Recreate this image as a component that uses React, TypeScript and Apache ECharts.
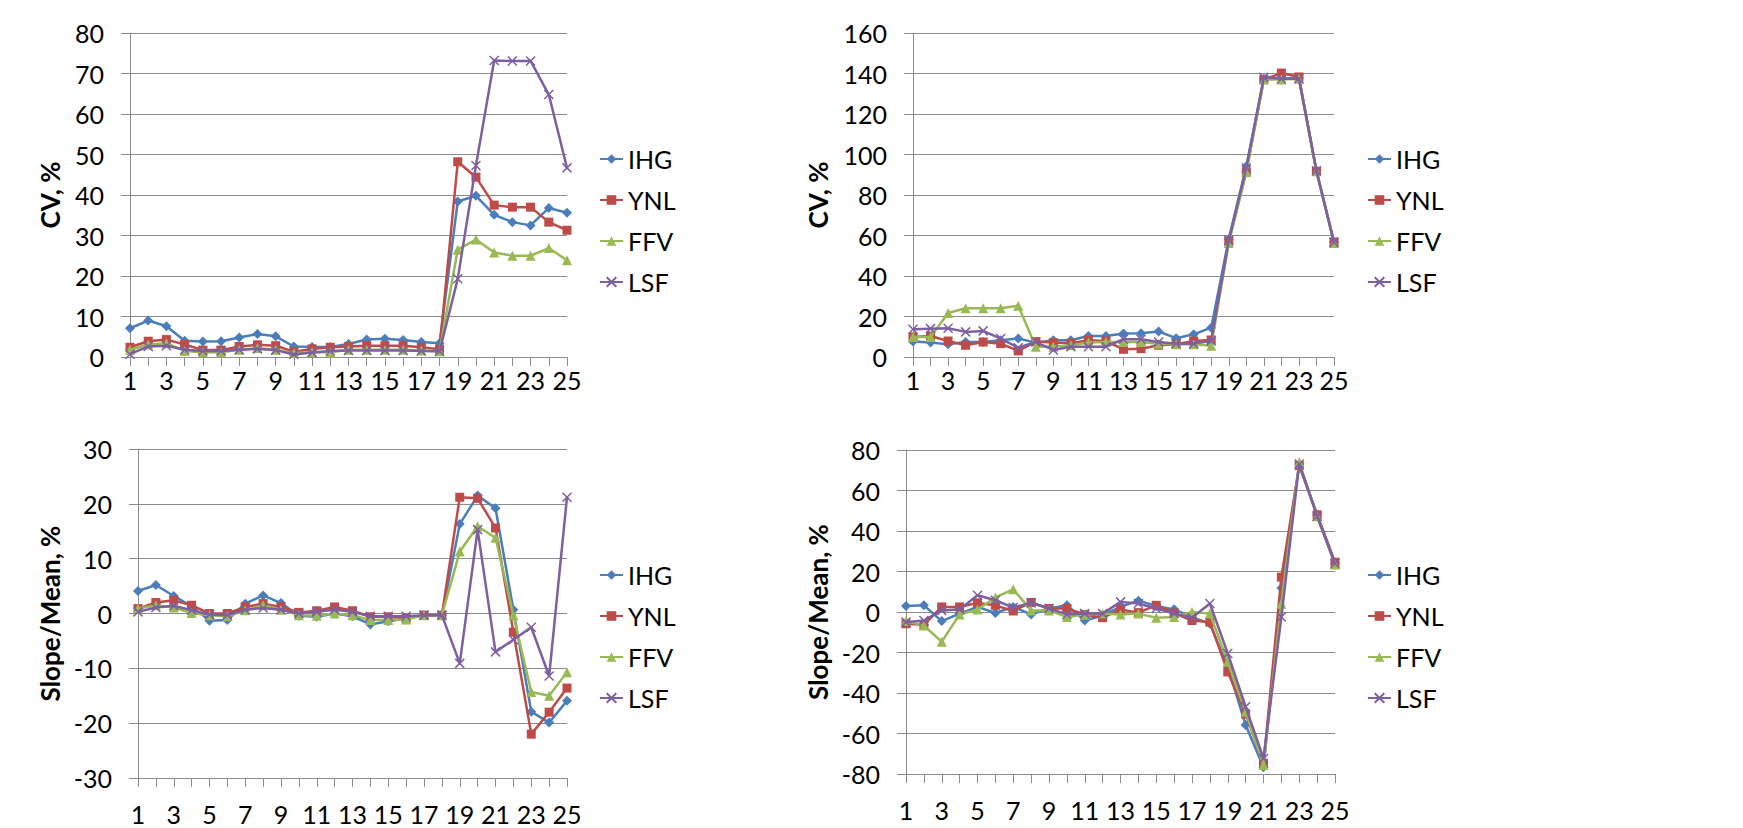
import React, { useEffect, useRef } from 'react';
import * as echarts from 'echarts';

const categories = ['1', '2', '3', '4', '5', '6', '7', '8', '9', '10', '11', '12', '13', '14', '15', '16', '17', '18', '19', '20', '21', '22', '23', '24', '25'];
const seriesNames = ['IHG', 'YNL', 'FFV', 'LSF'];

// Panel 1: CV, % (upper left)
const cv1IHG = [7.1, 9.0, 7.6, 4.0, 3.8, 3.9, 4.8, 5.7, 5.1, 2.6, 2.5, 2.5, 3.2, 4.3, 4.5, 4.2, 3.7, 3.4, 38.4, 39.8, 35.1, 33.3, 32.5, 36.8, 35.6];
const cv1YNL = [2.4, 3.9, 4.3, 3.1, 1.7, 1.7, 2.6, 3.0, 2.8, 1.3, 2.0, 2.4, 2.6, 2.8, 2.8, 2.8, 2.4, 1.9, 48.2, 44.4, 37.5, 37.0, 37.0, 33.3, 31.3];
const cv1FFV = [1.8, 3.1, 3.4, 1.5, 1.2, 1.2, 1.8, 2.2, 1.8, 1.0, 1.2, 1.2, 1.8, 1.8, 1.8, 1.8, 1.6, 1.4, 26.5, 29.0, 25.8, 25.0, 25.0, 26.9, 23.9];
const cv1LSF = [0.7, 2.6, 2.8, 1.8, 1.5, 1.5, 1.8, 2.0, 1.7, 0.6, 1.1, 1.5, 1.6, 1.6, 1.6, 1.6, 1.5, 1.4, 19.3, 47.3, 73.2, 73.1, 73.1, 64.8, 46.7];

// Panel 2: CV, % (upper right)
const cv2IHG = [7.6, 7.1, 6.3, 7.4, 7.4, 8.3, 9.1, 7.1, 8.3, 8.3, 10.4, 10.4, 11.6, 11.7, 12.6, 9.3, 11.2, 14.5, 58.3, 94.2, 137.4, 137.4, 137.8, 92.0, 56.8];
const cv2YNL = [9.9, 10.4, 7.9, 5.8, 7.4, 6.6, 3.0, 7.6, 7.1, 6.8, 8.3, 7.9, 3.8, 4.1, 5.8, 6.3, 7.9, 8.4, 57.1, 91.4, 137.0, 140.2, 138.3, 91.7, 56.8];
const cv2FFV = [9.9, 9.9, 21.7, 24.1, 24.1, 24.1, 25.3, 5.1, 5.1, 5.8, 7.1, 7.4, 7.4, 7.4, 6.6, 6.3, 6.3, 5.5, 56.3, 91.4, 137.0, 137.0, 137.4, 91.7, 56.3];
const cv2LSF = [13.7, 14.0, 14.2, 12.4, 12.9, 9.1, 4.6, 7.4, 3.5, 5.1, 5.1, 5.1, 8.8, 8.8, 7.4, 6.6, 6.6, 7.9, 57.6, 93.3, 138.1, 137.4, 137.4, 92.0, 56.6];

// Panel 3: Slope/Mean, % (lower left)
const sm1IHG = [4.1, 5.2, 3.2, 1.3, -1.3, -1.2, 1.8, 3.3, 1.9, -0.4, -0.6, 0.0, -0.5, -2.0, -1.4, -0.9, -0.3, -0.3, 16.3, 21.5, 19.2, 0.7, -17.9, -19.9, -15.9];
const sm1YNL = [0.9, 2.0, 2.4, 1.5, 0.0, 0.0, 1.2, 1.8, 1.2, 0.2, 0.5, 1.2, 0.5, -0.6, -0.6, -0.9, -0.3, -0.3, 21.2, 21.0, 15.6, -3.4, -22.0, -18.0, -13.6];
const sm1FFV = [0.9, 1.5, 1.1, 0.1, -0.3, -0.5, 0.6, 1.5, 0.7, -0.3, -0.4, 0.0, -0.3, -1.2, -1.2, -1.1, -0.3, -0.3, 11.3, 15.9, 13.8, -0.3, -14.3, -15.0, -10.7];
const sm1LSF = [0.3, 1.1, 1.4, 0.6, -0.2, -0.3, 0.7, 1.0, 0.7, 0.0, 0.3, 0.7, 0.3, -0.5, -0.5, -0.5, -0.3, -0.3, -9.1, 15.3, -7.0, -4.8, -2.5, -11.4, 21.2];

// Panel 4: Slope/Mean, % (lower right)
const sm2IHG = [3.0, 3.3, -4.5, -0.8, 2.5, -0.5, 2.5, -1.2, 1.7, 3.3, -4.2, -1.7, 2.5, 5.6, 3.0, 1.3, -2.5, -5.8, -27.0, -55.8, -76.7, 11.8, 73.1, 48.0, 24.1];
const sm2YNL = [-5.8, -6.3, 2.5, 2.5, 4.5, 3.3, 0.5, 4.7, 1.7, 1.7, -1.2, -2.8, 1.2, -0.3, 3.3, -0.5, -4.2, -5.0, -29.6, -50.4, -74.7, 17.2, 72.3, 48.0, 24.6];
const sm2FFV = [-4.5, -6.7, -14.7, -1.2, 1.2, 7.2, 11.2, 0.8, 0.8, -2.5, -1.3, -0.8, -1.2, -0.8, -2.8, -2.5, 0.0, -0.8, -24.6, -49.3, -75.5, 4.1, 73.9, 47.3, 23.5];
const sm2LSF = [-5.0, -4.2, 0.8, 1.2, 8.3, 5.8, 2.2, 4.5, 1.7, -1.2, -0.8, -0.8, 5.0, 4.2, 1.7, -0.8, -2.8, 4.2, -20.5, -46.8, -72.3, -2.5, 73.1, 47.3, 23.8];

const yTitles = ['CV, %', 'CV, %', 'Slope/Mean, %', 'Slope/Mean, %'];
const yMins = [0, 0, -30, -80];
const yMaxs = [80, 160, 30, 80];
const yIntervals = [10, 20, 10, 20];

const panelData = [
  [cv1IHG, cv1YNL, cv1FFV, cv1LSF],
  [cv2IHG, cv2YNL, cv2FFV, cv2LSF],
  [sm1IHG, sm1YNL, sm1FFV, sm1LSF],
  [sm2IHG, sm2YNL, sm2FFV, sm2LSF],
];

const colors = ['#4A7EBB', '#BE4B48', '#98B954', '#7D60A0'];
const symbols = ['diamond', 'rect', 'triangle', 'path://M0,0L10,10M10,0L0,10'];
const symbolSizes = [10, 9, 10, 9];

const FONT = 'Lato, "Open Sans", sans-serif';

const grids = [
  { left: 130, top: 33, width: 437, height: 324 },
  { left: 913, top: 33, width: 421, height: 324 },
  { left: 138, top: 449, width: 429, height: 329 },
  { left: 906, top: 450, width: 429, height: 324 },
];
const nameGaps = [67, 82, 75, 75];
const xLabelMargins = [14, 14, 27, 27];
const legendPos = [
  { left: 599, top: 146 },
  { left: 1367, top: 146 },
  { left: 599, top: 562 },
  { left: 1367, top: 562 },
];

export default function App() {
  const ref = useRef<HTMLDivElement>(null);
  useEffect(() => {
    if (!ref.current) return;
    const chart = echarts.init(ref.current, undefined, { renderer: 'svg' });
    const gridColor = '#8C8C8C';
    const option: any = {
      animation: false,
      backgroundColor: '#ffffff',
      textStyle: { fontFamily: FONT },
      grid: grids.map((g) => ({ ...g, containLabel: false })),
      legend: legendPos.map((p) => ({
        ...p,
        orient: 'vertical',
        data: seriesNames,
        itemWidth: 23,
        itemHeight: 12,
        itemGap: 15,
        padding: 0,
        selectedMode: false,
        textStyle: { fontFamily: FONT, fontSize: 25, color: '#000', lineHeight: 26 },
      })),
      xAxis: grids.map((_, i) => ({
        type: 'category',
        gridIndex: i,
        data: categories,
        boundaryGap: false,
        axisLine: { show: true, onZero: false, lineStyle: { color: gridColor, width: 1 } },
        axisTick: { show: true, interval: 0, length: 9, inside: false, lineStyle: { color: gridColor } },
        axisLabel: { interval: 1, margin: xLabelMargins[i], fontFamily: FONT, fontSize: 25, lineHeight: 18, color: '#000' },
        splitLine: { show: false },
      })),
      yAxis: grids.map((_, i) => ({
        type: 'value',
        gridIndex: i,
        min: yMins[i],
        max: yMaxs[i],
        interval: yIntervals[i],
        name: yTitles[i],
        nameLocation: 'middle',
        nameGap: nameGaps[i],
        nameTextStyle: { fontFamily: FONT, fontSize: 26, fontWeight: 'bold', color: '#000' },
        axisLine: { show: true, lineStyle: { color: gridColor, width: 1 } },
        axisTick: { show: true, length: 9, inside: false, lineStyle: { color: gridColor } },
        axisLabel: { margin: 26, fontFamily: FONT, fontSize: 25, color: '#000' },
        splitLine: { show: true, lineStyle: { color: gridColor, width: 1 } },
      })),
      series: panelData.flatMap((arrs, p) =>
        arrs.map((vals, s) => ({
          type: 'line',
          name: seriesNames[s],
          xAxisIndex: p,
          yAxisIndex: p,
          data: vals,
          symbol: symbols[s],
          symbolSize: symbolSizes[s],
          showAllSymbol: true,
          lineStyle: { color: colors[s], width: 2.5 },
          itemStyle: s === 3
            ? { color: colors[s], borderColor: colors[s], borderWidth: 1.5 }
            : { color: colors[s] },
          emphasis: { disabled: true },
          z: 2 + s,
        }))
      ),
    };
    chart.setOption(option);
    return () => chart.dispose();
  }, []);
  return (
    <div
      ref={ref}
      style={{ position: 'fixed', left: 0, top: 0, width: 1743, height: 828, background: '#fff' }}
    />
  );
}
